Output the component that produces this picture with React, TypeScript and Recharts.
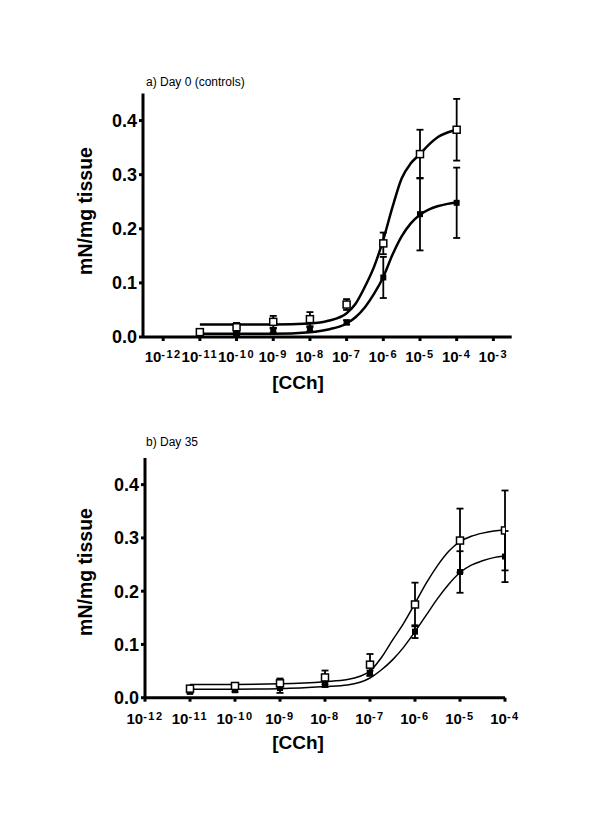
import { ComposedChart, ErrorBar, Line, Scatter, XAxis, YAxis } from "recharts";

const font = "'Liberation Sans', Arial, sans-serif";

// log10 [CCh] of the measured points
const doses = [-11, -10, -9, -8, -7, -6, -5, -4];

// a) Day 0 (controls)
const day0Open = [0.009, 0.018, 0.028, 0.033, 0.06, 0.173, 0.338, 0.383];
const day0OpenErr = [0.004, 0.008, 0.011, 0.013, 0.01, 0.02, 0.045, 0.057];
const day0Filled = [0.004, 0.006, 0.012, 0.014, 0.027, 0.11, 0.227, 0.248];
const day0FilledErr = [0.002, 0.003, 0.004, 0.004, 0.004, 0.038, 0.067, 0.065];

// b) Day 35
const day35Open = [0.017, 0.022, 0.027, 0.038, 0.062, 0.175, 0.295, 0.314];
const day35OpenErr = [0.004, 0.005, 0.009, 0.013, 0.02, 0.041, 0.06, 0.075];
const day35Filled = [0.011, 0.014, 0.018, 0.025, 0.046, 0.124, 0.236, 0.265];
const day35FilledErr = [0.003, 0.003, 0.009, 0.005, 0.005, 0.012, 0.039, 0.048];

// fitted curves
const curveX = [-11, -10, -9, -8, -7.5, -7, -6.75, -6.5, -6.25, -6, -5.75, -5.5, -5.25, -5, -4.75, -4.5, -4.25, -4];
const day0OpenFit = [0.023, 0.023, 0.023, 0.025, 0.03, 0.044, 0.062, 0.093, 0.13, 0.18, 0.24, 0.293, 0.321, 0.338, 0.356, 0.37, 0.378, 0.383];
const day0FilledFit = [0.006, 0.006, 0.006, 0.009, 0.014, 0.025, 0.037, 0.055, 0.08, 0.111, 0.152, 0.186, 0.21, 0.226, 0.236, 0.242, 0.246, 0.249];
const day35OpenFit = [0.025, 0.025, 0.026, 0.03, 0.034, 0.05, 0.075, 0.108, 0.14, 0.177, 0.215, 0.248, 0.275, 0.293, 0.303, 0.309, 0.313, 0.315];
const day35FilledFit = [0.016, 0.016, 0.017, 0.021, 0.024, 0.037, 0.052, 0.071, 0.095, 0.124, 0.155, 0.186, 0.213, 0.235, 0.249, 0.257, 0.263, 0.266];

const yTicks = [0, 0.1, 0.2, 0.3, 0.4];
const xTicksTop = [-12, -11, -10, -9, -8, -7, -6, -5, -4, -3];
const xTicksBottom = [-12, -11, -10, -9, -8, -7, -6, -5, -4];

const points = (ys: number[], errs: number[]) => doses.map((x, i) => ({ x, y: ys[i], e: errs[i] }));
const curve = (ys: number[]) => curveX.map((x, i) => ({ x, y: ys[i] }));

const openSquare = (p: any) => (
  <rect x={p.cx - 3.5} y={p.cy - 3.5} width={7} height={7} fill="#fff" stroke="#000" strokeWidth={1.5} />
);
const filledSquare = (p: any) => <rect x={p.cx - 3} y={p.cy - 3} width={6} height={6} fill="#000" />;

const powTick = (shift: number) => (p: any) => (
  <text x={p.x} y={p.y + shift} textAnchor="middle" fontFamily={font} fontWeight="bold" fontSize={15} fill="#000">
    10
    <tspan dy={-4} fontSize={11} letterSpacing={1.5}>
      {"-" + Math.abs(p.payload.value)}
    </tspan>
  </text>
);

type PanelProps = {
  top: number;
  height: number;
  marginTop: number;
  axisWidth: number;
  right: number;
  xAxisHeight: number;
  xDomain: [number, number];
  xTicks: number[];
  tickShift: number;
  curveWidth: number;
  open: number[];
  openErr: number[];
  filled: number[];
  filledErr: number[];
  openFit: number[];
  filledFit: number[];
};

function Panel(props: PanelProps) {
  return (
    <div style={{ position: "absolute", left: 0, top: props.top }}>
      <ComposedChart
        width={600}
        height={props.height}
        margin={{ top: props.marginTop, right: props.right, left: 0, bottom: 0 }}
      >
        <XAxis
          dataKey="x"
          type="number"
          domain={props.xDomain}
          ticks={props.xTicks}
          interval={0}
          height={props.xAxisHeight}
          axisLine={{ stroke: "#000", strokeWidth: 3 }}
          tickLine={{ stroke: "#000", strokeWidth: 3 }}
          tickSize={4}
          tickMargin={2}
          tick={powTick(props.tickShift)}
          allowDataOverflow
        />
        <YAxis
          type="number"
          domain={[0, 0.45]}
          ticks={yTicks}
          width={props.axisWidth}
          tickFormatter={(v: number) => v.toFixed(1)}
          axisLine={{ stroke: "#000", strokeWidth: 3 }}
          tickLine={{ stroke: "#000", strokeWidth: 3 }}
          tickSize={4}
          tickMargin={2}
          tick={{ fill: "#000", fontSize: 18, fontWeight: "bold", fontFamily: font }}
        />
        <Line data={curve(props.openFit)} dataKey="y" type="monotone" stroke="#000" strokeWidth={props.curveWidth} dot={false} isAnimationActive={false} />
        <Line data={curve(props.filledFit)} dataKey="y" type="monotone" stroke="#000" strokeWidth={props.curveWidth} dot={false} isAnimationActive={false} />
        <Scatter data={points(props.filled, props.filledErr)} dataKey="y" shape={filledSquare} isAnimationActive={false}>
          <ErrorBar dataKey="e" direction="y" width={3.5} stroke="#000" strokeWidth={1.8} />
        </Scatter>
        <Scatter data={points(props.open, props.openErr)} dataKey="y" shape={openSquare} isAnimationActive={false}>
          <ErrorBar dataKey="e" direction="y" width={3.5} stroke="#000" strokeWidth={1.8} />
        </Scatter>
      </ComposedChart>
    </div>
  );
}

export default function App() {
  return (
    <div style={{ position: "absolute", left: 0, top: 0, width: 600, height: 821, background: "#fff" }}>
      <Panel
        top={0}
        height={410}
        marginTop={93.5}
        axisWidth={143}
        right={88.3}
        xAxisHeight={73}
        xDomain={[-12.55, -2.5]}
        xTicks={xTicksTop}
        tickShift={19}
        curveWidth={2.5}
        open={day0Open}
        openErr={day0OpenErr}
        filled={day0Filled}
        filledErr={day0FilledErr}
        openFit={day0OpenFit}
        filledFit={day0FilledFit}
      />
      <Panel
        top={410}
        height={411}
        marginTop={48}
        axisWidth={145}
        right={95}
        xAxisHeight={123.3}
        xDomain={[-12, -4]}
        xTicks={xTicksBottom}
        tickShift={20}
        curveWidth={1.5}
        open={day35Open}
        openErr={day35OpenErr}
        filled={day35Filled}
        filledErr={day35FilledErr}
        openFit={day35OpenFit}
        filledFit={day35FilledFit}
      />
      <svg width={600} height={821} style={{ position: "absolute", left: 0, top: 0, pointerEvents: "none" }}>
        <text x={146} y={86} fontFamily={font} fontSize={12} fill="#000">
          a) Day 0 (controls)
        </text>
        <text x={146} y={446} fontFamily={font} fontSize={12} fill="#000">
          b) Day 35
        </text>
        <text x={92} y={211} transform="rotate(-90 92 211)" textAnchor="middle" fontFamily={font} fontWeight="bold" fontSize={19.5} fill="#000">
          mN/mg tissue
        </text>
        <text x={92} y={572} transform="rotate(-90 92 572)" textAnchor="middle" fontFamily={font} fontWeight="bold" fontSize={19.5} fill="#000">
          mN/mg tissue
        </text>
        <text x={298} y={389} textAnchor="middle" fontFamily={font} fontWeight="bold" fontSize={19} fill="#000">
          [CCh]
        </text>
        <text x={298} y={749} textAnchor="middle" fontFamily={font} fontWeight="bold" fontSize={19} fill="#000">
          [CCh]
        </text>
      </svg>
    </div>
  );
}
